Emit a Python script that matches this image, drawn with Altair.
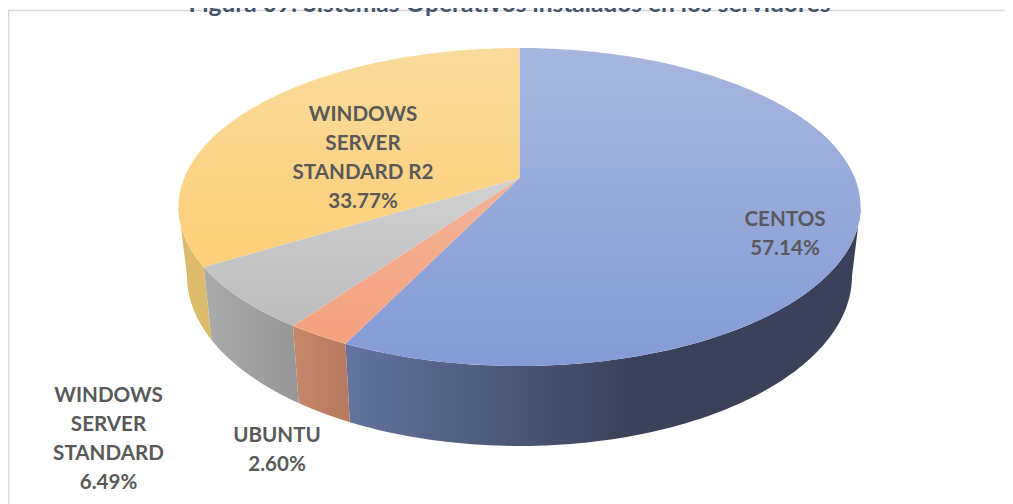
import numpy as np
import altair as alt

TITLE = "Figura 09: Sistemas Operativos instalados en los servidores"
names = ["CENTOS", "UBUNTU", "WINDOWS\nSERVER\nSTANDARD", "WINDOWS\nSERVER\nSTANDARD R2"]
shares = [57.14, 2.60, 6.49, 33.77]
label_x = [785, 277, 108.5, 363]
label_y = [219.5, 435.5, 395.5, 114.5]

top_colors = [
    ["#a7b6de", "#849bd6"],
    ["#f4b398", "#f4a17e"],
    ["#d1d1d1", "#bcbcbc"],
    ["#fbdb9c", "#fdcf78"],
]
wall_colors = [
    [(0, "#63749f"), (0.56, "#3a4259"), (1, "#3a4259")],
    [(0, "#c6866a"), (1, "#b67a5e")],
    [(0, "#ababab"), (1, "#969696")],
    [(0, "#dcbb6c"), (1, "#dcbb6c")],
]

# tilted-disc geometry of the 3D pie, in pixels
CX, CY = 519.5, 178.0
K, A, B = 0.1824, 153.7, 335.3
SX, SY, DROP = 0.975, 1.069, 67.0
W, H = 997, 496
SILHOUETTE = np.degrees(np.arccos(-K))


def rim(theta, base=False):
    t = np.radians(theta)
    X, Y = np.sin(t), np.cos(t)
    d = 1 + K * Y
    x, y = B * X / d, -A * Y / d
    if base:
        x, y = SX * x, SY * y + DROP
    return np.column_stack([x, y])


def feature(points):
    ring = [[float(a), float(b)] for a, b in points]
    ring.append(ring[0])
    return {"type": "Feature", "properties": {},
            "geometry": {"type": "Polygon", "coordinates": [ring]}}


def grad(stops, horizontal=False):
    return alt.Gradient(
        gradient="linear",
        x1=0, y1=0,
        x2=1 if horizontal else 0,
        y2=0 if horizontal else 1,
        stops=[alt.GradientStop(offset=o, color=c) for o, c in stops],
    )


proj = alt.Projection(type="identity", scale=1, translate=[CX - 8, CY - 8])
edges = np.concatenate([[0], np.cumsum(shares)]) * 3.6
layers = []

# side walls (only the part facing the viewer)
visible = [(SILHOUETTE, 360 - SILHOUETTE)]
for i in range(len(shares)):
    a, b = max(edges[i], visible[0][0]), min(edges[i + 1], visible[0][1])
    th = np.linspace(a, b, 90)
    pts = np.vstack([rim(th), rim(th[::-1], base=True)])
    layers.append(
        alt.Chart(alt.Data(values=[feature(pts)]))
        .mark_geoshape(fill=grad(wall_colors[i], True), strokeWidth=0)
        .project(**proj.to_dict())
    )

# top faces
for i in range(len(shares)):
    th = np.linspace(edges[i], edges[i + 1], 160)
    pts = np.vstack([[[0.0, 0.0]], rim(th)])
    cols = top_colors[i]
    layers.append(
        alt.Chart(alt.Data(values=[feature(pts)]))
        .mark_geoshape(fill=grad([(0, cols[0]), (1, cols[1])]), strokeWidth=0)
        .project(**proj.to_dict())
    )

# frame
frame_color = "#d9d9d9"
layers.append(alt.Chart(alt.Data(values=[{"a": 0}])).mark_rule(color=frame_color, strokeWidth=1.5).encode(
    x=alt.value(0.5), y=alt.value(2.5), y2=alt.value(H)))
layers.append(alt.Chart(alt.Data(values=[{"a": 0}])).mark_rule(color=frame_color, strokeWidth=1.5).encode(
    x=alt.value(0.5), x2=alt.value(W), y=alt.value(2.5)))

# labels
for name, share, lx, ly in zip(names, shares, label_x, label_y):
    layers.append(
        alt.Chart(alt.Data(values=[{"label": f"{name}\n{share:.2f}%"}]))
        .mark_text(font="Lato", fontWeight="bold", fontSize=20.6, color="#595959",
                   lineBreak="\n", lineHeight=29.3, align="center", baseline="middle")
        .encode(text="label:N", x=alt.value(lx - 8), y=alt.value(ly - 8))
    )

# title, cut by the top of the picture as in the source
layers.append(
    alt.Chart(alt.Data(values=[{"label": TITLE}]))
    .mark_text(font="Lato", fontWeight="bold", fontSize=24.5, color="#44546a",
               align="center", baseline="alphabetic")
    .encode(text="label:N", x=alt.value(509.5 - 8), y=alt.value(3.5))
)

chart = (
    alt.layer(*layers)
    .properties(width=W, height=H, padding=0, autosize=alt.AutoSizeParams(type="none"),
                background="white")
    .configure_view(stroke=None)
)
chart.save("out.html", embed_options={"renderer": "svg", "actions": False})
